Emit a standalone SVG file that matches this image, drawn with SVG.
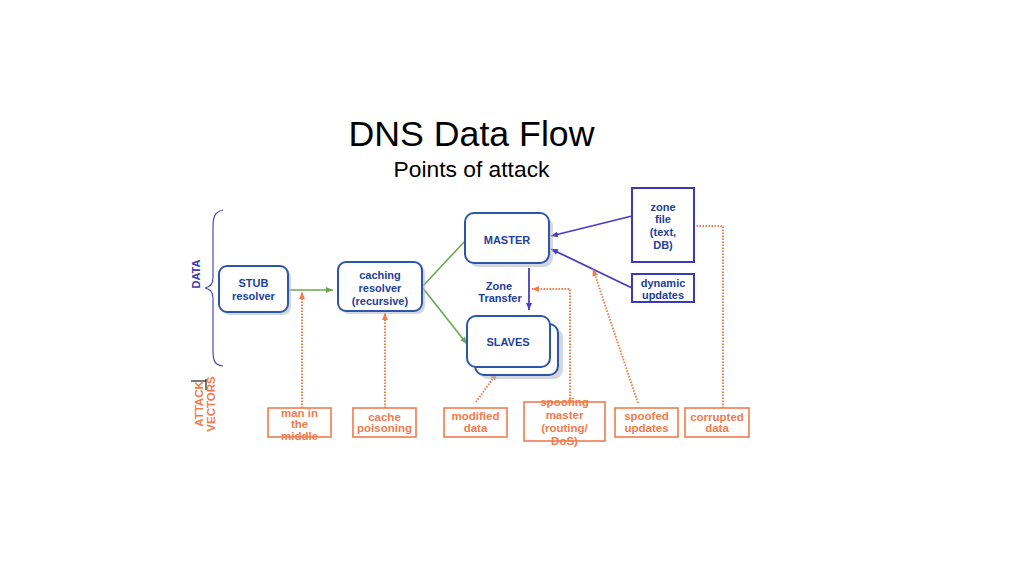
<svg xmlns="http://www.w3.org/2000/svg" width="1024" height="576" viewBox="0 0 1024 576">
<defs>
<style>
.t{font-family:"Liberation Sans",Arial,sans-serif;}
.node{fill:#fff;stroke:#2c56a8;stroke-width:2;}
.shadow{fill:#b8bcc4;opacity:0.6;}
.nt{font-family:"Liberation Sans",Arial,sans-serif;font-weight:bold;font-size:11px;fill:#23409a;text-anchor:middle;}
.box{fill:#fff;stroke:#3a3ab8;stroke-width:2;}
.av{fill:none;stroke:#f07c4c;stroke-width:1.6;}
.at{font-family:"Liberation Sans",Arial,sans-serif;font-weight:bold;font-size:11.5px;fill:#f07c4c;text-anchor:middle;}
.g{stroke:#6aa84f;stroke-width:1.6;fill:none;}
.b{stroke:#4a3cc4;stroke-width:1.8;fill:none;}
.o{stroke:#f07c4c;stroke-width:2;fill:none;stroke-dasharray:1.5 1.5;}
</style>
<marker id="ag" markerWidth="8" markerHeight="8" refX="7" refY="4" orient="auto" markerUnits="userSpaceOnUse"><path d="M0,1 L7,4 L0,7 z" fill="#6aa84f"/></marker>
<marker id="ab" markerWidth="8" markerHeight="8" refX="7" refY="4" orient="auto" markerUnits="userSpaceOnUse"><path d="M0,1 L7,4 L0,7 z" fill="#4a3cc4"/></marker>
<marker id="ao" markerWidth="8" markerHeight="8" refX="7" refY="4" orient="auto" markerUnits="userSpaceOnUse"><path d="M0,1 L7,4 L0,7 z" fill="#f07c4c"/></marker>
</defs>
<rect width="1024" height="576" fill="#fff"/>

<g id="title">
<text class="t" x="471.5" y="146" font-size="35.7" text-anchor="middle" fill="#000">DNS Data Flow</text>
<text class="t" x="471.5" y="177" font-size="22.8" text-anchor="middle" fill="#000">Points of attack</text>
</g>

<g id="data-label">
<path d="M223,210 C214,212 213,218 213,228 L213,278 C213,284 210,287 205,288 C210,289 213,292 213,298 L213,350 C213,360 214,365 223,366" fill="none" stroke="#4a4ab8" stroke-width="1.2"/>
<text class="t" transform="translate(200,274) rotate(-90)" font-size="11" font-weight="bold" fill="#3c3cb0" text-anchor="middle">DATA</text>
</g>

<g id="attack-label">
<line x1="191" y1="381" x2="206" y2="381" stroke="#222" stroke-width="1.2"/>
<line x1="206" y1="379" x2="206" y2="390" stroke="#222" stroke-width="1.2"/>
<text class="t" transform="translate(203,404) rotate(-90)" font-size="11.5" font-weight="bold" fill="#f07c4c" text-anchor="middle">ATTACK</text>
<text class="t" transform="translate(215,404) rotate(-90)" font-size="11.5" font-weight="bold" fill="#f07c4c" text-anchor="middle">VECTORS</text>
</g>

<g id="connectors">
<line class="g" x1="288" y1="290" x2="333" y2="290" marker-end="url(#ag)"/>
<line class="g" x1="422" y1="287" x2="465" y2="241"/>
<line class="g" x1="422" y1="287" x2="467" y2="344" marker-end="url(#ag)"/>
<line class="b" x1="632" y1="216" x2="551" y2="236" marker-end="url(#ab)"/>
<line class="b" x1="632" y1="288" x2="551" y2="249" marker-end="url(#ab)"/>
<line class="b" x1="529" y1="268" x2="529" y2="310" stroke-width="1.5" marker-end="url(#ab)"/>
<line class="o" x1="302" y1="408" x2="302" y2="292" marker-end="url(#ao)"/>
<line class="o" x1="385" y1="408" x2="385" y2="313" marker-end="url(#ao)"/>
<line class="o" x1="476" y1="402" x2="497" y2="373" marker-end="url(#ao)"/>
<polyline class="o" points="570,402 570,289 532,289" marker-end="url(#ao)"/>
<line class="o" x1="638" y1="403" x2="593" y2="269" marker-end="url(#ao)"/>
<polyline class="o" points="723,408 723,226 695,226"/>
</g>

<g id="stub">
<rect class="shadow" x="222" y="269" width="69" height="46" rx="8"/>
<rect class="node" x="219" y="266" width="69" height="46" rx="8"/>
<text class="nt" x="253.5" y="287">STUB</text>
<text class="nt" x="253.5" y="300">resolver</text>
</g>

<g id="caching">
<rect class="shadow" x="341" y="265" width="84" height="49" rx="8"/>
<rect class="node" x="338" y="262" width="84" height="49" rx="8"/>
<text class="nt" x="380" y="279">caching</text>
<text class="nt" x="380" y="292">resolver</text>
<text class="nt" x="380" y="305">(recursive)</text>
</g>

<g id="master">
<rect class="shadow" x="469" y="217" width="84" height="50" rx="9"/>
<rect class="node" x="465" y="213" width="84" height="50" rx="9"/>
<text class="nt" x="507" y="244">MASTER</text>
</g>

<g id="slaves">
<rect class="shadow" x="479" y="328" width="84" height="51" rx="9"/>
<rect class="node" x="475" y="324" width="83" height="51" rx="9"/>
<rect class="node" x="467" y="316" width="83" height="51" rx="9"/>
<text class="nt" x="508" y="346">SLAVES</text>
</g>

<g id="zone-transfer">
<text class="nt" x="499" y="290">Zone</text>
<text class="nt" x="500" y="302">Transfer</text>
</g>

<g id="zonefile">
<rect class="box" x="632" y="188" width="62" height="74"/>
<text class="nt" x="663" y="211">zone</text>
<text class="nt" x="663" y="223">file</text>
<text class="nt" x="663" y="236">(text,</text>
<text class="nt" x="663" y="249">DB)</text>
</g>

<g id="dynamic">
<rect class="box" x="632" y="274" width="62" height="28"/>
<text class="nt" x="663" y="287">dynamic</text>
<text class="nt" x="663" y="299">updates</text>
</g>

<g id="mitm">
<rect class="av" x="268" y="408" width="63" height="29"/>
<text class="at" x="299.5" y="417">man in</text>
<text class="at" x="299.5" y="428">the</text>
<text class="at" x="299.5" y="440">middle</text>
</g>

<g id="cache-poisoning">
<rect class="av" x="353" y="408" width="63" height="29"/>
<text class="at" x="384.5" y="421">cache</text>
<text class="at" x="384.5" y="432">poisoning</text>
</g>

<g id="modified">
<rect class="av" x="444" y="408" width="63" height="29"/>
<text class="at" x="475.5" y="420">modified</text>
<text class="at" x="475.5" y="432">data</text>
</g>

<g id="spoofing-master">
<rect class="av" x="524" y="402" width="81" height="39"/>
<text class="at" x="564.5" y="406">spoofing</text>
<text class="at" x="564.5" y="419">master</text>
<text class="at" x="564.5" y="432">(routing/</text>
<text class="at" x="564.5" y="445">DoS)</text>
</g>

<g id="spoofed-updates">
<rect class="av" x="615" y="408" width="63" height="29"/>
<text class="at" x="646.5" y="420">spoofed</text>
<text class="at" x="646.5" y="432">updates</text>
</g>

<g id="corrupted">
<rect class="av" x="685" y="408" width="64" height="29"/>
<text class="at" x="717" y="421" font-size="10">corrupted</text>
<text class="at" x="717" y="432" font-size="10">data</text>
</g>
</svg>
